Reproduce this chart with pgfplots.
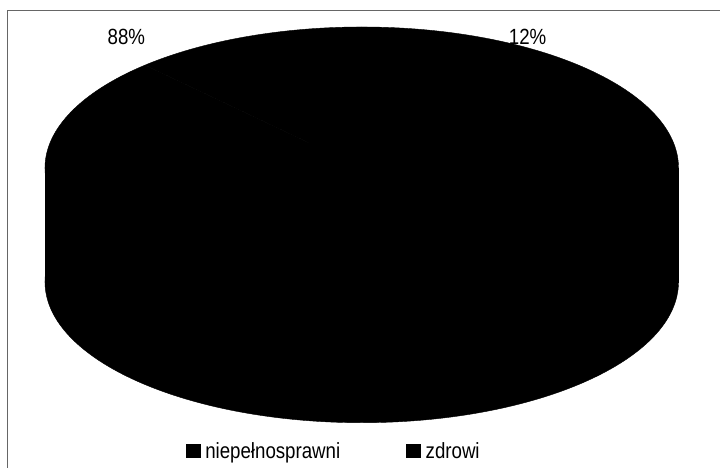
\documentclass[border=0pt]{standalone}
\usepackage{pgfplots}
\pgfplotsset{compat=1.18}
\usepackage{pgfplotstable}
\usepackage{fontspec}
\setmainfont{Liberation Sans}
\pgfplotstableread{
label value
niepelnosprawni 88
zdrowi 12
}\piedata
\newcommand{\lbl}[1]{\scalebox{0.85}[1]{\fontsize{22}{26}\selectfont #1}}
\begin{document}
\begin{tikzpicture}
\pgfplotstablegetelem{0}{value}\of\piedata \edef\va{\pgfplotsretval}
\pgfplotstablegetelem{1}{value}\of\piedata \edef\vb{\pgfplotsretval}
\pgfmathsetmacro{\sA}{90}
\pgfmathsetmacro{\eA}{90-3.6*\va}
\pgfmathsetmacro{\eB}{\eA-3.6*\vb}
\begin{axis}[width=720pt,height=468pt,scale only axis,
  xmin=0,xmax=720,ymin=0,ymax=468,axis lines=none,clip=false,
  legend columns=2,
  legend style={at={(axis cs:334,16.5)},anchor=center,draw=none,fill=none,
    /tikz/every even column/.style={column sep=64pt},
    nodes={inner sep=2pt}},
  legend image code/.code={\fill[black] (0pt,-6.5pt) rectangle (14pt,6.5pt); \path (17pt,0pt);}]
% fixed picture size
\path (axis cs:0,0) rectangle (axis cs:720,468);
% frame
\draw[gray!80!black, line width=1pt] (axis cs:8,0) -- (axis cs:8,457) -- (axis cs:720,457);
% pie body (3D depth)
\filldraw[black] (axis cs:362,186) ellipse [x radius=317pt, y radius=141pt];
\filldraw[black] (axis cs:45,186) rectangle (axis cs:679,300);
% top slices
\filldraw[black] (axis cs:362,300) -- ++(\sA:317pt and 141pt) arc[start angle=\sA, end angle=\eA, x radius=317pt, y radius=141pt] -- cycle;
\filldraw[black] (axis cs:362,300) -- ++(\eA:317pt and 141pt) arc[start angle=\eA, end angle=\eB, x radius=317pt, y radius=141pt] -- cycle;
% labels
\node at (axis cs:126.5,431) {\lbl{\va\%}};
\node at (axis cs:528,431) {\lbl{\vb\%}};
\addlegendimage{black}
\addlegendentry{\lbl{niepełnosprawni}}
\addlegendimage{black}
\addlegendentry{\lbl{zdrowi}}
\end{axis}
\end{tikzpicture}
\end{document}
